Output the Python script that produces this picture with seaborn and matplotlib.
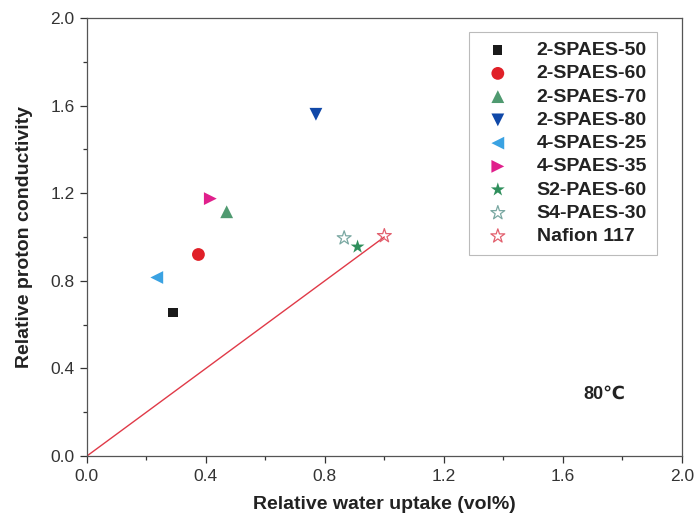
"""Relative proton conductivity vs relative water uptake at 80 C."""

import matplotlib

matplotlib.use("Agg")
import matplotlib.pyplot as plt
import seaborn as sns
from matplotlib.ticker import MultipleLocator

# Data
SAMPLES = ["2-SPAES-50", "2-SPAES-60", "2-SPAES-70", "2-SPAES-80", "4-SPAES-25",
           "4-SPAES-35", "S2-PAES-60", "S4-PAES-30", "Nafion 117"]
WATER_UPTAKE = [0.29, 0.375, 0.47, 0.77, 0.235, 0.415, 0.91, 0.865, 1.0]
CONDUCTIVITY = [0.655, 0.92, 1.115, 1.56, 0.815, 1.175, 0.955, 0.995, 1.005]
REF_LINE_X = [0.0, 1.0]
REF_LINE_Y = [0.0, 1.0]
TICKS = [0.0, 0.4, 0.8, 1.2, 1.6, 2.0]

MARKERS = ["s", "o", "^", "v", "<", ">", "*", "*", "*"]
COLORS = ["#1a1a1a", "#e02028", "#4f9a70", "#1048a8", "#3aa2e2",
          "#e0208c", "#2f8f5c", "#7aa8a2", "#e2606e"]
SIZES = [45, 85, 85, 85, 85, 85, 110, 110, 110]
HOLLOW = [False] * 7 + [True, True]

sns.set_theme(style="ticks")
plt.rcParams["font.family"] = ["Liberation Sans", "DejaVu Sans"]

fig, ax = plt.subplots(figsize=(6.95, 5.26), dpi=100)
fig.subplots_adjust(left=0.125, right=0.981, bottom=0.133, top=0.966)

sns.lineplot(x=REF_LINE_X, y=REF_LINE_Y, color="#e03a48", linewidth=1.0, ax=ax)

for name, x, y, m, c, s, hollow in zip(SAMPLES, WATER_UPTAKE, CONDUCTIVITY,
                                        MARKERS, COLORS, SIZES, HOLLOW):
    if hollow:
        ax.scatter([x], [y], marker=m, s=s, facecolors="none", edgecolors=c,
                   linewidths=0.9, label=name, zorder=3)
    else:
        sns.scatterplot(x=[x], y=[y], marker=m, s=s, color=c, edgecolor="none",
                        label=name, ax=ax, zorder=3)

ax.set_xlim(0, 2.0)
ax.set_ylim(0, 2.0)
ax.set_xticks(TICKS)
ax.set_yticks(TICKS)
ax.set_xticklabels([f"{t:.1f}" for t in TICKS])
ax.set_yticklabels([f"{t:.1f}" for t in TICKS])
ax.xaxis.set_minor_locator(MultipleLocator(0.2))
ax.yaxis.set_minor_locator(MultipleLocator(0.2))
ax.tick_params(which="both", direction="out", color="#333333", labelsize=12.5,
               labelcolor="#333333", top=False, right=False)
ax.tick_params(which="major", length=5, width=0.9, pad=4)
ax.tick_params(which="minor", length=3, width=0.9)
for spine in ax.spines.values():
    spine.set_visible(True)
    spine.set_color("#555555")
    spine.set_linewidth(0.9)

ax.set_xlabel("Relative water uptake (vol%)", fontsize=14, fontweight="bold",
              color="#222222", labelpad=9)
ax.set_ylabel("Relative proton conductivity", fontsize=14, fontweight="bold",
              color="#222222", labelpad=12)

ax.text(1.74, 0.28, "80℃", fontsize=13, fontweight="bold", color="#222222",
        ha="center", va="center")

leg = ax.legend(loc="upper right", bbox_to_anchor=(0.958, 0.968),
                borderaxespad=0, frameon=True, fancybox=False,
                edgecolor="#aaaaaa", handletextpad=1.0, labelspacing=0.29,
                borderpad=0.5, prop={"weight": "bold", "size": 14})
leg.get_frame().set_linewidth(0.8)
for text in leg.get_texts():
    text.set_color("#222222")

fig.savefig("out.png", dpi=100)
plt.close(fig)
